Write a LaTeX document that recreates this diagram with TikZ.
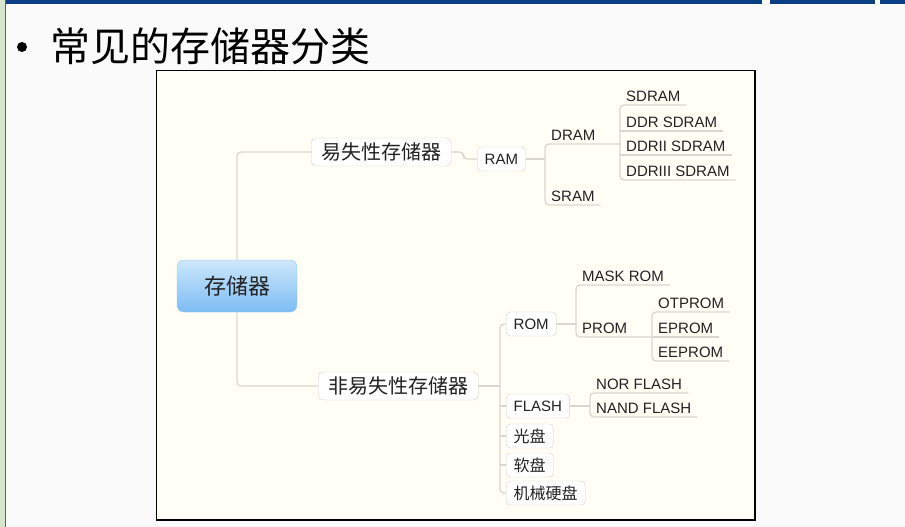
\documentclass[tikz,border=0pt]{standalone}
\usepackage{fontspec}
\setmainfont{Liberation Sans}
\newfontfamily\cjk{Noto Sans CJK SC}
\usetikzlibrary{positioning,calc}
\definecolor{pagebg}{RGB}{250,250,250}
\definecolor{mapbg}{RGB}{255,255,246}
\definecolor{barclr}{RGB}{12,62,134}
\definecolor{stripclr}{RGB}{213,230,204}
\definecolor{stripline}{RGB}{90,104,80}
\definecolor{linkclr}{RGB}{216,216,208}
\definecolor{boxclr}{RGB}{208,208,204}
\definecolor{txtclr}{RGB}{34,34,34}
\definecolor{roottop}{RGB}{206,231,251}
\definecolor{rootbot}{RGB}{124,188,244}
\definecolor{rootline}{RGB}{150,196,236}
\tikzset{
  title/.style={anchor=west,inner sep=0pt,font=\cjk\fontsize{40}{44}\selectfont,text=black},
  root/.style={rectangle,rounded corners=7pt,draw=rootline,
               top color=roottop,bottom color=rootbot,
               minimum width=120pt,minimum height=52pt,inner sep=0pt,
               font=\cjk\fontsize{22}{26}\selectfont,text=txtclr},
  branch/.style={rectangle,rounded corners=5pt,draw=boxclr,fill=white,anchor=west,
                 minimum height=28pt,inner xsep=10pt,inner ysep=0pt,
                 font=\cjk\fontsize{20}{24}\selectfont,text=txtclr},
  box/.style={rectangle,rounded corners=4pt,draw=boxclr,fill=white,anchor=west,
              minimum height=24pt,inner xsep=7.5pt,inner ysep=0pt,
              font=\fontsize{15}{18}\selectfont,text=txtclr},
  cjkbox/.style={box,font=\cjk\fontsize{16}{19}\selectfont},
  leaf/.style={anchor=south west,inner xsep=6pt,inner ysep=3pt,
               text height=11pt,text depth=0pt,
               font=\fontsize{15}{18}\selectfont,text=txtclr},
  link/.style={draw=linkclr,line width=1.3pt,rounded corners=4pt},
}
\begin{document}
\begin{tikzpicture}[x=1pt,y=-1pt]
\useasboundingbox (0,0) rectangle (905,527);
% Slide background
\fill[pagebg] (0,0) rectangle (905,527);
\fill[barclr] (0,0) rectangle (762,4.5);
\fill[barclr] (770,0) rectangle (875,4.5);
\fill[barclr] (880,0) rectangle (905,4.5);
\fill[stripclr] (0,0) rectangle (5,527);
\draw[stripline,line width=1pt] (5.5,0) -- (5.5,527);

% Heading
\node[circle,fill=black,minimum size=10pt,inner sep=0pt] (bullet) at (22,47) {};
\node[title] (head) at (50,46) {常见的存储器分类};

% Map frame
\draw[line width=1.2pt,fill=mapbg] (156.5,70.5) rectangle (755,520);

% Root and main branches
\node[root] (root) at (237,286) {存储器};
\node[branch] (vol)  at (311,152) {易失性存储器};
\node[branch] (nvol) at (318,386) {非易失性存储器};

% Volatile side
\node[box] (ram) at (477,159) {RAM};
\node[leaf] (dram) at (545,144) {DRAM};
\node[leaf] (sram) at (545,205) {SRAM};
\node[leaf] (sdram)  at (620,105) {SDRAM};
\node[leaf] (ddr)    at (620,131) {DDR SDRAM};
\node[leaf] (ddrii)  at (620,155) {DDRII SDRAM};
\node[leaf] (ddriii) at (620,180) {DDRIII SDRAM};

% Non-volatile side
\node[box] (rom)   at (506,324) {ROM};
\node[box] (flash) at (506,406) {FLASH};
\node[cjkbox] (cd)     at (506,436) {光盘};
\node[cjkbox] (floppy) at (506,465) {软盘};
\node[cjkbox] (hdd)    at (506,493) {机械硬盘};
\node[leaf] (maskrom) at (576,285) {MASK ROM};
\node[leaf] (prom)    at (576,337) {PROM};
\node[leaf] (otprom)  at (652,312) {OTPROM};
\node[leaf] (eprom)   at (652,337) {EPROM};
\node[leaf] (eeprom)  at (652,361) {EEPROM};
\node[leaf] (nor)  at (590,393) {NOR FLASH};
\node[leaf] (nand) at (590,417) {NAND FLASH};

% Links
\draw[link] (root.north) |- (vol.west);
\draw[link] (root.south) |- (nvol.west);

\draw[link] (vol.east) -- ++(12,0) |- (ram.west);
\draw[link] (ram.east) -- (ram.east -| dram.south west);
\draw[link] (dram.south west -| sdram.south west) -- (dram.south west)
            -- (sram.south west) -- (sram.south east);
\draw[link] (sdram.south east) -- (sdram.south west)
            -- (ddriii.south west) -- (ddriii.south east);
\draw[link] (ddr.south west) -- (ddr.south east);
\draw[link] (ddrii.south west) -- (ddrii.south east);

\coordinate (nvspine) at (500,386);
\draw[link] (nvol.east) -- (nvspine);
\draw[link] (rom.west) -- (rom.west -| nvspine) -- (hdd.west -| nvspine) -- (hdd.west);
\draw[link] (flash.west) -- (flash.west -| nvspine);
\draw[link] (cd.west) -- (cd.west -| nvspine);
\draw[link] (floppy.west) -- (floppy.west -| nvspine);

\draw[link] (rom.east) -- (rom.east -| prom.south west);
\draw[link] (maskrom.south east) -- (maskrom.south west) -- (prom.south west)
            -- (prom.south west -| otprom.south west);
\draw[link] (otprom.south east) -- (otprom.south west)
            -- (eeprom.south west) -- (eeprom.south east);
\draw[link] (eprom.south west) -- (eprom.south east);

\draw[link] (flash.east) -- (flash.east -| nor.south west);
\draw[link] (nor.south east) -- (nor.south west) -- (nand.south west) -- (nand.south east);
\end{tikzpicture}
\end{document}
